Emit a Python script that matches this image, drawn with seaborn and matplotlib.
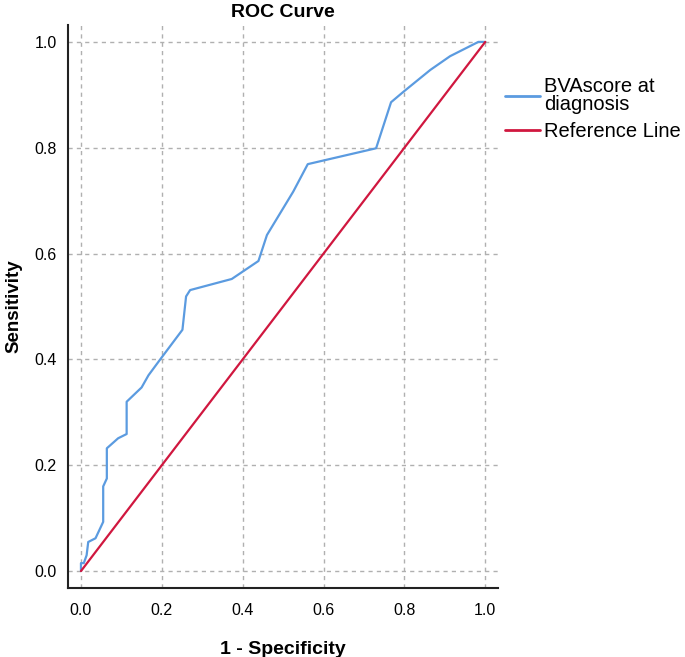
import numpy as np
import pandas as pd
import matplotlib
matplotlib.use('Agg')
import matplotlib.pyplot as plt
import seaborn as sns

# ROC points
fpr = [0.0, 0.0, 0.007, 0.014, 0.018, 0.036, 0.055, 0.055, 0.064, 0.064,
       0.092, 0.113, 0.113, 0.150, 0.167, 0.196, 0.251, 0.260, 0.270, 0.373,
       0.439, 0.460, 0.525, 0.561, 0.730, 0.767, 0.798, 0.864, 0.913, 0.983, 1.0]
tpr = [0.0, 0.015, 0.015, 0.030, 0.055, 0.062, 0.093, 0.160, 0.175, 0.232,
       0.251, 0.259, 0.320, 0.347, 0.370, 0.400, 0.456, 0.519, 0.531, 0.552,
       0.586, 0.635, 0.717, 0.769, 0.799, 0.886, 0.906, 0.947, 0.973, 1.0, 1.0]
ref_x = [0.0, 1.0]
ref_y = [0.0, 1.0]
ticks = [0.0, 0.2, 0.4, 0.6, 0.8, 1.0]

df_roc = pd.DataFrame({'x': fpr, 'y': tpr, 'series': 'BVAscore at\ndiagnosis'})
df_ref = pd.DataFrame({'x': ref_x, 'y': ref_y, 'series': 'Reference Line'})
df = pd.concat([df_roc, df_ref], ignore_index=True)

sns.set_style('white', {'text.color': 'black', 'axes.labelcolor': 'black',
                        'xtick.color': 'black', 'ytick.color': 'black'})
plt.rcParams['font.family'] = ['Liberation Sans', 'DejaVu Sans']

fig = plt.figure(figsize=(6.85, 6.57), dpi=100)
ax = fig.add_axes([0.0993, 0.105, 0.628, 0.857])

sns.lineplot(data=df, x='x', y='y', hue='series', sort=False, estimator=None,
             palette={'BVAscore at\ndiagnosis': '#5b9be0', 'Reference Line': '#d0173f'},
             linewidth=1.6, ax=ax)

ax.set_xlim(-0.032, 1.032)
ax.set_ylim(-0.032, 1.032)
ax.set_xticks(ticks)
ax.set_yticks(ticks)
ax.set_xticklabels([f'{t:.1f}' for t in ticks])
ax.set_yticklabels([f'{t:.1f}' for t in ticks])
ax.tick_params(axis='both', length=0, labelsize=11.5, labelcolor='black')
ax.tick_params(axis='x', pad=11)
ax.tick_params(axis='y', pad=8)
ax.grid(True, color='#b0b0b0', linestyle=(0, (3, 3)), linewidth=1.0)
ax.set_axisbelow(True)
for s in ['top', 'right']:
    ax.spines[s].set_visible(False)
for s in ['left', 'bottom']:
    ax.spines[s].set_color('#222222')
    ax.spines[s].set_linewidth(1.5)

ax.set_xlabel('1 - Specificity', fontsize=14, fontweight='bold', labelpad=16, color='black')
ax.set_ylabel('Sensitivity', fontsize=13.5, fontweight='bold', color='black')
ax.yaxis.set_label_coords(-0.105, 0.5)
ax.set_title('ROC Curve', fontsize=14, fontweight='bold', pad=6, color='black')

leg = ax.legend(loc='upper left', bbox_to_anchor=(1.016, 0.907), frameon=False,
                fontsize=14.5, handlelength=1.75, handletextpad=0.2,
                borderaxespad=0, borderpad=0, labelspacing=0.4)
for t in leg.get_texts():
    t.set_linespacing(0.92)
    t.set_color('black')
for line in leg.get_lines():
    line.set_linewidth(2)

fig.savefig('out.png', dpi=100)
